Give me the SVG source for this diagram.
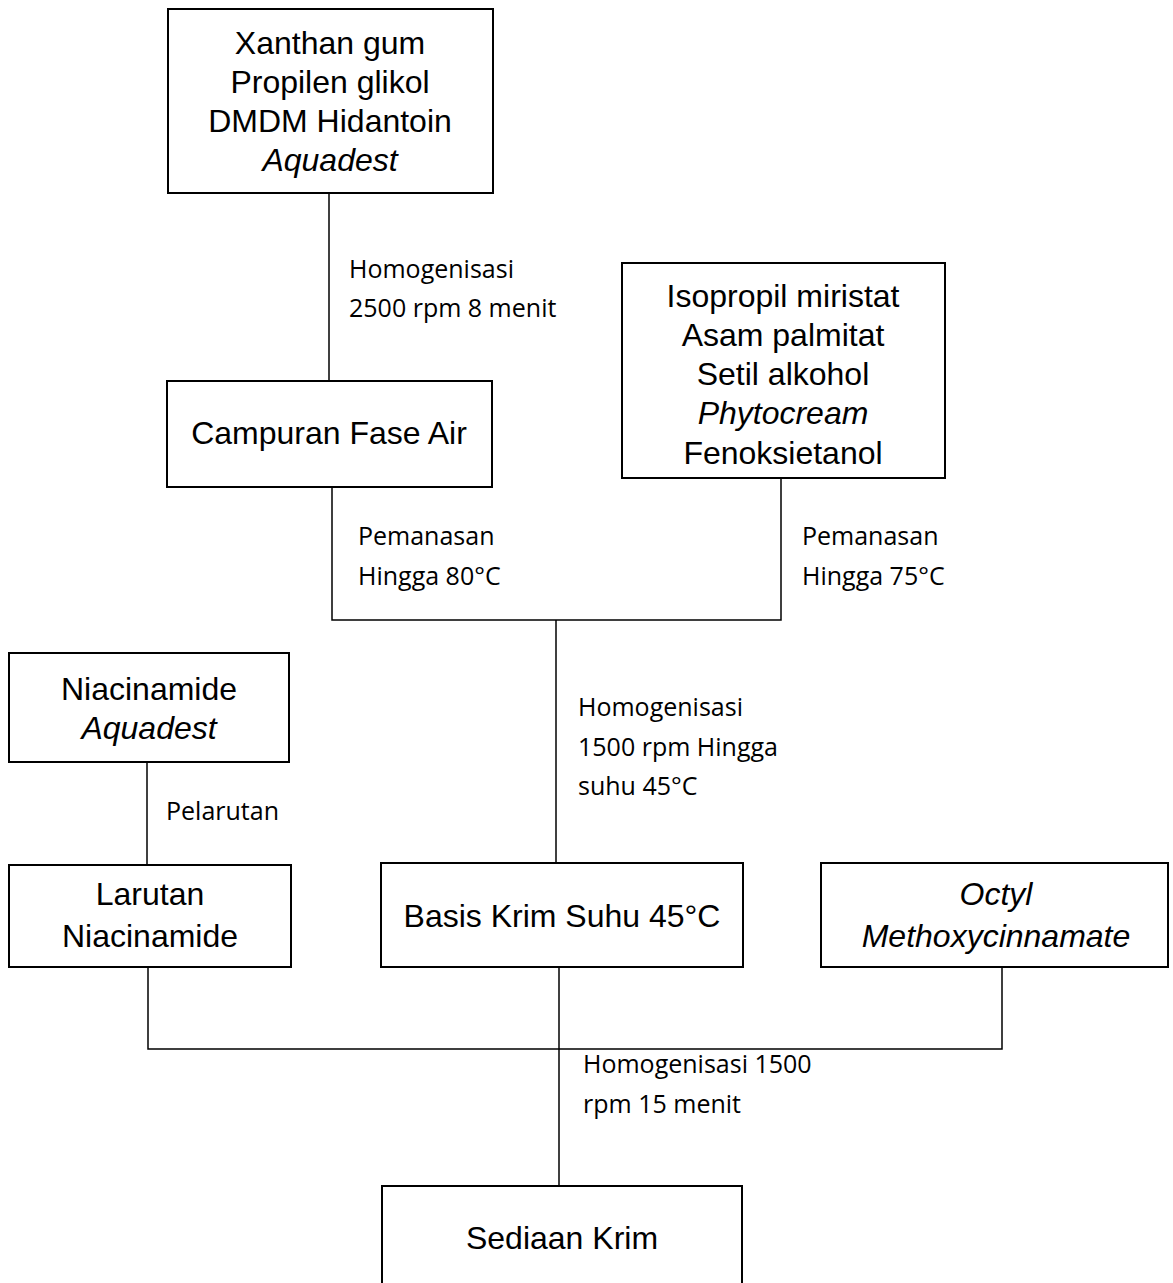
<svg xmlns="http://www.w3.org/2000/svg" width="1173" height="1283" viewBox="0 0 1173 1283">
<style>
.box{fill:#fff;stroke:#000;stroke-width:2}
.t{font-family:"Liberation Sans",Arial,sans-serif;font-size:32px;fill:#000;text-anchor:middle}
.i{font-style:italic}
.l{font-family:"Open Sans","Noto Sans",sans-serif;font-size:25px;fill:#000}
.c{stroke:#000;stroke-width:1.5;fill:none}
</style>
<rect width="1173" height="1283" fill="#fff"/>
<g id="connectors">
<path class="c" d="M329 193V381"/>
<path class="c" d="M332 487V620H781V478"/>
<path class="c" d="M556 620V863"/>
<path class="c" d="M147 762V865"/>
<path class="c" d="M148 967V1049H1002V967"/>
<path class="c" d="M559 967V1186"/>
</g>
<g id="n-aqueous-ingredients">
<rect class="box" x="168" y="9" width="325" height="184"/>
<text class="t" x="330" y="54">Xanthan gum</text>
<text class="t" x="330" y="93">Propilen glikol</text>
<text class="t" x="330" y="132">DMDM Hidantoin</text>
<text class="t i" x="330" y="171">Aquadest</text>
</g>
<g id="n-campuran">
<rect class="box" x="167" y="381" width="325" height="106"/>
<text class="t" x="329" y="444">Campuran Fase Air</text>
</g>
<g id="n-oil-ingredients">
<rect class="box" x="622" y="263" width="323" height="215"/>
<text class="t" x="783" y="307">Isopropil miristat</text>
<text class="t" x="783" y="346">Asam palmitat</text>
<text class="t" x="783" y="385">Setil alkohol</text>
<text class="t i" x="783" y="424">Phytocream</text>
<text class="t" x="783" y="464">Fenoksietanol</text>
</g>
<g id="n-niacinamide">
<rect class="box" x="9" y="653" width="280" height="109"/>
<text class="t" x="149" y="700">Niacinamide</text>
<text class="t i" x="149" y="739">Aquadest</text>
</g>
<g id="n-larutan">
<rect class="box" x="9" y="865" width="282" height="102"/>
<text class="t" x="150" y="905">Larutan</text>
<text class="t" x="150" y="947">Niacinamide</text>
</g>
<g id="n-basis">
<rect class="box" x="381" y="863" width="362" height="104"/>
<text class="t" x="562" y="927">Basis Krim Suhu 45°C</text>
</g>
<g id="n-octyl">
<rect class="box" x="821" y="863" width="347" height="104"/>
<text class="t i" x="996" y="905">Octyl</text>
<text class="t i" x="996" y="947">Methoxycinnamate</text>
</g>
<g id="n-sediaan">
<rect class="box" x="382" y="1186" width="360" height="110"/>
<text class="t" x="562" y="1249">Sediaan Krim</text>
</g>
<g id="labels">
<text class="l" x="349" y="278">Homogenisasi</text>
<text class="l" x="349" y="317">2500 rpm 8 menit</text>
<text class="l" x="358" y="545">Pemanasan</text>
<text class="l" x="358" y="585">Hingga 80°C</text>
<text class="l" x="802" y="545">Pemanasan</text>
<text class="l" x="802" y="585">Hingga 75°C</text>
<text class="l" x="578" y="716">Homogenisasi</text>
<text class="l" x="578" y="756">1500 rpm Hingga</text>
<text class="l" x="578" y="795">suhu 45°C</text>
<text class="l" x="166" y="820">Pelarutan</text>
<text class="l" x="583" y="1073">Homogenisasi 1500</text>
<text class="l" x="583" y="1113">rpm 15 menit</text>
</g>
</svg>
